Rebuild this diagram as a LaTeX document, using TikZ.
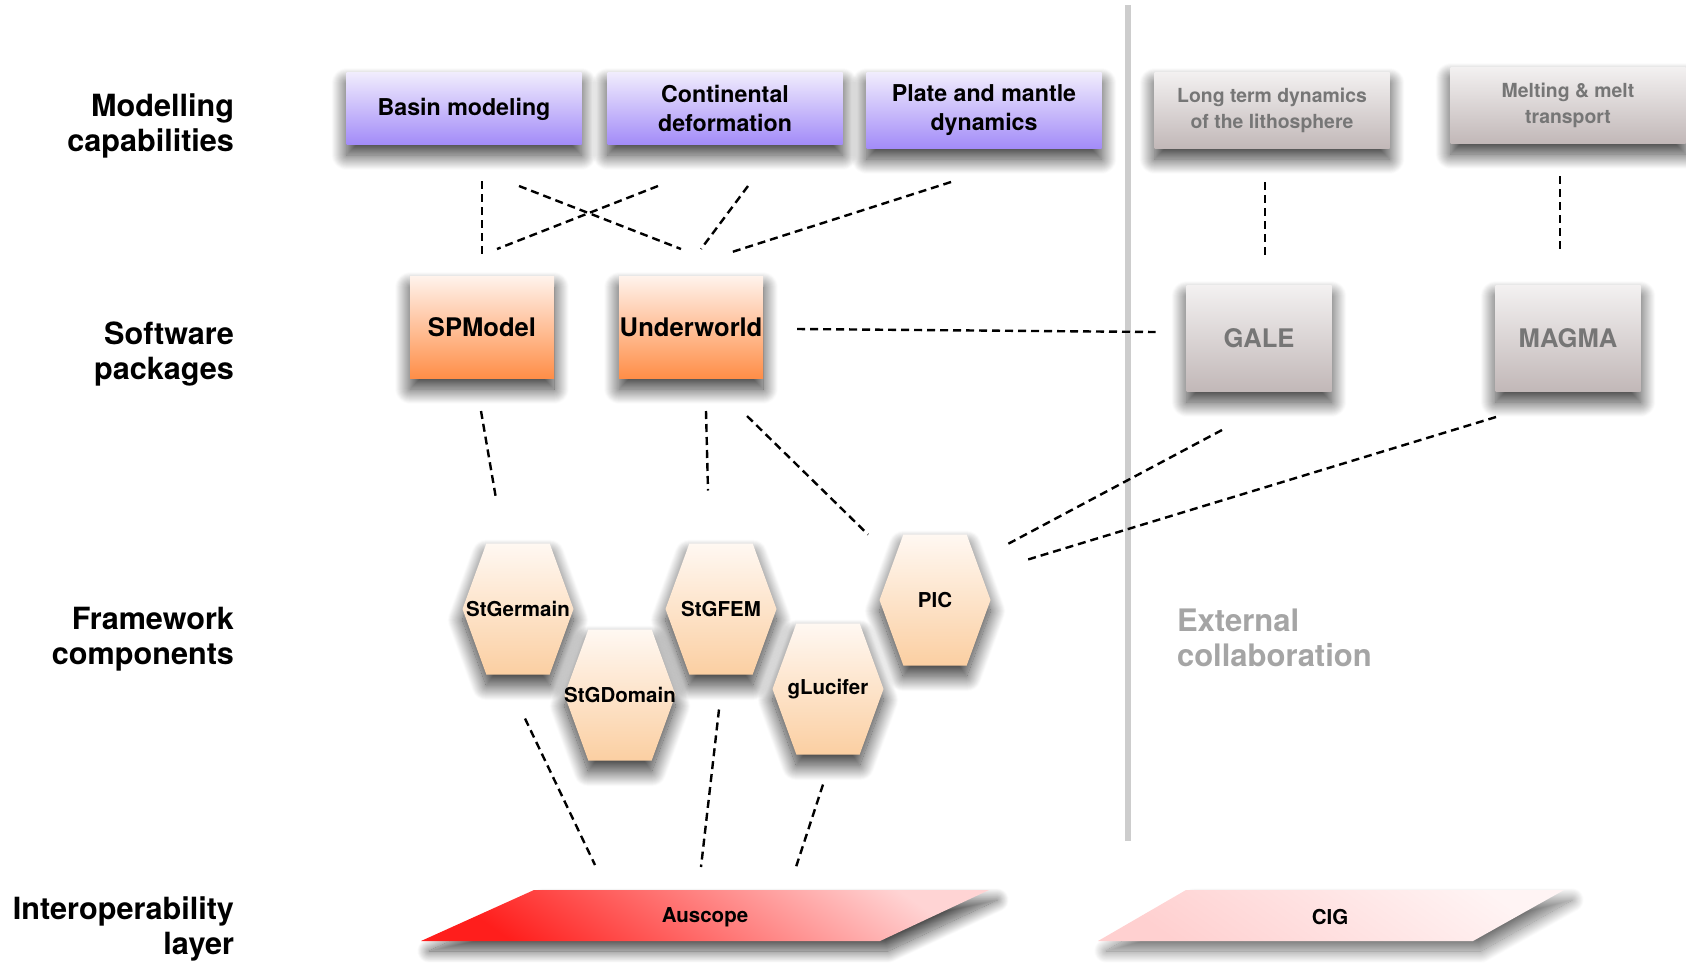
\documentclass[tikz,border=0pt]{standalone}
\usepackage{fontspec}
\setmainfont{TeX Gyre Heros}
\usetikzlibrary{shapes.symbols,shadows.blur}
\definecolor{capTop}{RGB}{241,237,253}
\definecolor{capBot}{RGB}{163,140,248}
\definecolor{extTop}{RGB}{243,241,241}
\definecolor{extBot}{RGB}{194,184,184}
\definecolor{pkgTop}{RGB}{255,243,236}
\definecolor{pkgBot}{RGB}{255,142,72}
\definecolor{hexTop}{RGB}{255,248,242}
\definecolor{hexBot}{RGB}{251,207,162}
\definecolor{extText}{RGB}{118,118,118}
\definecolor{collabText}{RGB}{165,165,165}
\definecolor{sepLine}{RGB}{205,205,205}
\definecolor{ausRed}{RGB}{255,30,28}
\definecolor{ausMid}{RGB}{255,100,100}
\definecolor{ausPink}{RGB}{255,212,212}
\definecolor{cigPink}{RGB}{255,208,208}
\definecolor{cigLight}{RGB}{255,244,244}
\begin{document}
\begin{tikzpicture}[x=1pt,y=-1pt,inner sep=0pt,outer sep=0pt,
shadowed/.style={blur shadow={shadow xshift=0pt,shadow yshift=-11pt,shadow blur radius=15pt,shadow blur steps=30,shadow opacity=80}},
capblock/.style={rectangle,shadowed,top color=capTop,bottom color=capBot,minimum width=235pt,minimum height=72pt,align=center,font=\fontsize{23.2}{29}\selectfont\bfseries},
extblock/.style={capblock,top color=extTop,bottom color=extBot,text=extText,minimum height=74pt,font=\fontsize{19.4}{26}\selectfont\bfseries},
pkgblock/.style={rectangle,shadowed,top color=pkgTop,bottom color=pkgBot,minimum width=144pt,minimum height=102pt,font=\fontsize{25.6}{30}\selectfont\bfseries},
extpkg/.style={pkgblock,top color=extTop,bottom color=extBot,text=extText,minimum width=145pt,minimum height=106pt},
hexblock/.style={signal,signal to=west and east,signal pointer angle=140,inner xsep=-25pt,minimum width=111pt,minimum height=131pt,shadowed,top color=hexTop,bottom color=hexBot,font=\fontsize{20.5}{24}\selectfont\bfseries},
layer/.style={anchor=east,align=right,font=\fontsize{30.6}{35.5}\selectfont\bfseries},
floor/.style={blur shadow={shadow xshift=8pt,shadow yshift=-10pt,shadow blur radius=12pt,shadow blur steps=30,shadow opacity=#1}},
link/.style={dash pattern=on 8pt off 5pt,line width=2.4pt}]
\useasboundingbox (0,0) rectangle (1686,962);

% layer titles
\draw (234,126) node[layer] (tcap) {Modelling\\capabilities};
\draw (234,354) node[layer] (tpkg) {Software\\packages};
\draw (234,639) node[layer] (tfrm) {Framework\\components};
\draw (234,929) node[layer] (tint) {Interoperability\\layer};

\draw[sepLine,line width=6pt] (1128,5) -- (1128,841);
\draw (1177,638) node[anchor=west,align=left,text=collabText,font=\fontsize{31}{35.5}\selectfont\bfseries] (collab) {External\\collaboration};

% capabilities
\draw (464,108) node[capblock,text depth=2pt] (basin) {Basin modeling};
\draw (725,108) node[capblock] (contdef) {Continental\\deformation};
\draw (984,110) node[capblock,minimum height=76pt] (plate) {Plate and mantle\\dynamics};
\draw (1272,110) node[extblock,minimum height=76pt] (longterm) {Long term dynamics\\of the lithosphere};
\draw (1568,105) node[extblock,minimum height=76pt] (melting) {Melting \& melt\\transport};

% packages
\draw (482,327) node[pkgblock] (spmodel) {SPModel};
\draw (691,327) node[pkgblock] (underworld) {Underworld};
\draw (1259,338) node[extpkg] (gale) {GALE};
\draw (1568,338) node[extpkg] (magma) {MAGMA};

% components
\draw (518,609) node[hexblock] (stgermain) {StGermain};
\draw (721,609) node[hexblock] (stgfem) {StGFEM};
\draw (935,600) node[hexblock] (pic) {PIC};
\draw (620,695) node[hexblock] (stgdomain) {StGDomain};
\draw (828,689) node[hexblock] (glucifer) {gLucifer};

% interoperability
\shade[floor=70,left color=ausRed,middle color=ausMid,right color=ausPink,shading angle=145]
  (421,941) -- (534,890) -- (989,890) -- (880,941) -- cycle;
\draw (705,917) node[font=\fontsize{20.5}{24}\selectfont\bfseries] (auscope) {Auscope};
\shade[floor=55,left color=cigPink,right color=cigLight,shading angle=145]
  (1098,941) -- (1186,890) -- (1564,890) -- (1473,941) -- cycle;
\draw (1330,917) node[font=\fontsize{20.5}{24}\selectfont\bfseries] (cig) {CIG};

% links
\draw[link] ([shift={(18,37)}]basin.south) -- ([shift={(0,-21)}]spmodel.north);
\draw[link] ([shift={(55,42)}]basin.south) -- ([shift={(-10,-27)}]underworld.north);
\draw[link] ([shift={(-67,42)}]contdef.south) -- ([shift={(15,-27)}]spmodel.north);
\draw[link] ([shift={(23,42)}]contdef.south) -- ([shift={(10,-27)}]underworld.north);
\draw[link] ([shift={(-33,34)}]plate.south) -- ([shift={(41,-24)}]underworld.north);
\draw[link] ([shift={(-7,34)}]longterm.south) -- ([shift={(6,-30)}]gale.north);
\draw[link] ([shift={(-8,33)}]melting.south) -- ([shift={(-8,-34)}]magma.north);
\draw[link] ([shift={(34,2)}]underworld.east) -- ([shift={(-31,-6)}]gale.west);
\draw[link] ([shift={(-1,33)}]spmodel.south) -- ([shift={(-22,-45)}]stgermain.north);
\draw[link] ([shift={(15,33)}]underworld.south) -- ([shift={(-13,-53)}]stgfem.north);
\draw[link] ([shift={(56,38)}]underworld.south) -- ([shift={(-67,0)}]pic.north);
\draw[link] ([shift={(-37,39)}]gale.south) -- ([shift={(70,11)}]pic.north);
\draw[link] ([shift={(-72,26)}]magma.south) -- ([shift={(93,25)}]pic.north);
\draw[link] ([shift={(7,44)}]stgermain.south) -- ([shift={(-110,-52)}]auscope.center);
\draw[link] ([shift={(-2,35)}]stgfem.south) -- ([shift={(-4,-50)}]auscope.center);
\draw[link] ([shift={(-5,30)}]glucifer.south) -- ([shift={(91,-50)}]auscope.center);
\end{tikzpicture}
\end{document}
